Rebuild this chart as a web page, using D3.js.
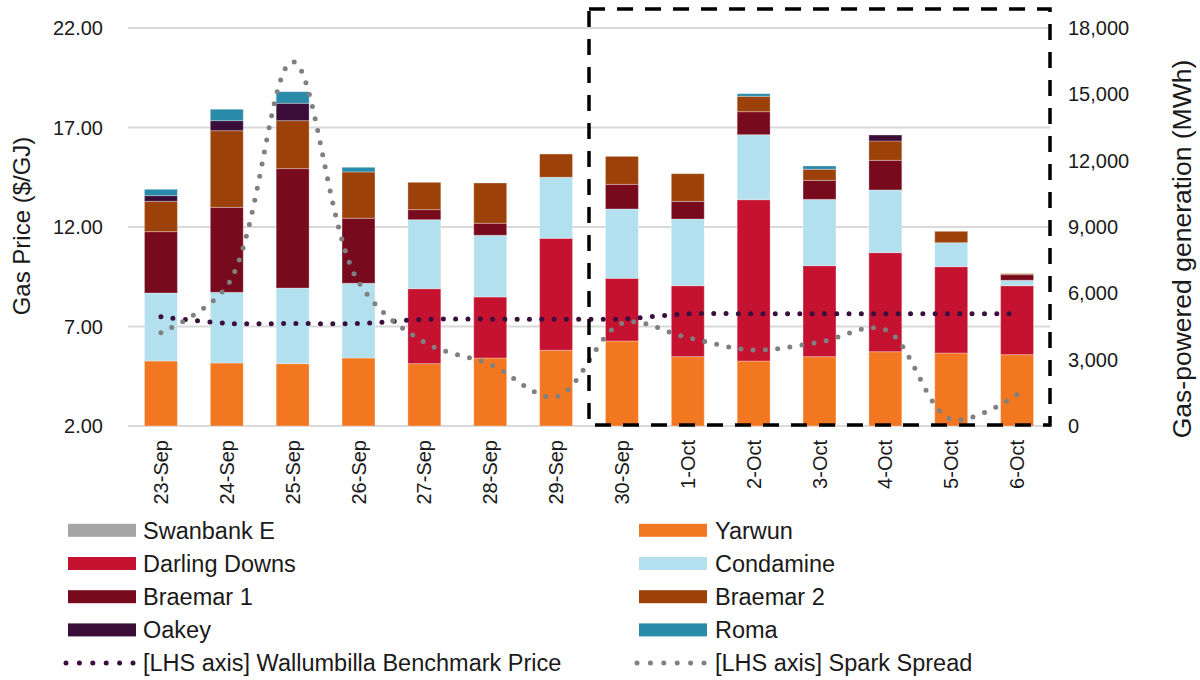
<!DOCTYPE html>
<html>
<head>
<meta charset="utf-8">
<script src="https://cdnjs.cloudflare.com/ajax/libs/d3/7.8.5/d3.min.js"></script>
<style>
	body { margin: 0; background: #fff; }
	text { font-family: "Liberation Sans", Arial, sans-serif; fill: #1a1a1a; }
</style>
</head>
<body>
<div id="chart"></div>
<script>

// Data (MWh per day per station, $/GJ for the lines)
var categories = ["23-Sep", "24-Sep", "25-Sep", "26-Sep", "27-Sep", "28-Sep", "29-Sep",
	"30-Sep", "1-Oct", "2-Oct", "3-Oct", "4-Oct", "5-Oct", "6-Oct"];
var swanbankE    = [0, 0, 0, 0, 0, 0, 0, 0, 0, 0, 0, 0, 0, 0];
var yarwun       = [2940, 2850, 2820, 3075, 2820, 3075, 3425, 3845, 3135, 2940, 3135, 3360, 3300, 3225];
var darlingDowns = [0, 0, 0, 0, 3390, 2760, 5065, 2835, 3210, 7295, 4115, 4480, 3905, 3120];
var condamine    = [3075, 3195, 3420, 3380, 3120, 2790, 2760, 3135, 3015, 2940, 3000, 2835, 1085, 245];
var braemar1     = [2775, 3845, 5400, 2940, 455, 545, 0, 1115, 800, 1040, 860, 1340, 0, 255];
var braemar2     = [1370, 3465, 2170, 2095, 1235, 1820, 1050, 1265, 1250, 695, 500, 875, 515, 45];
var oakey        = [260, 455, 785, 0, 0, 0, 0, 0, 0, 0, 0, 270, 0, 0];
var roma         = [285, 515, 525, 210, 0, 0, 0, 0, 0, 120, 150, 0, 0, 0];
var benchmarkPrice = [7.49, 7.16, 7.15, 7.15, 7.36, 7.37, 7.37, 7.38, 7.64, 7.64, 7.64, 7.64, 7.64, 7.64];
var sparkSpread    = [6.69, 9.02, 20.31, 9.24, 6.21, 5.10, 3.47, 7.16, 6.44, 5.82, 6.22, 6.84, 2.34, 3.57];
var leftTicks  = [2, 7, 12, 17, 22];
var rightTicks = [0, 3000, 6000, 9000, 12000, 15000, 18000];

var series = [
	{name: "Swanbank E", values: swanbankE, color: "#a5a5a5"},
	{name: "Yarwun", values: yarwun, color: "#f37721"},
	{name: "Darling Downs", values: darlingDowns, color: "#c41230"},
	{name: "Condamine", values: condamine, color: "#b3e0ee"},
	{name: "Braemar 1", values: braemar1, color: "#780a1e"},
	{name: "Braemar 2", values: braemar2, color: "#9c410a"},
	{name: "Oakey", values: oakey, color: "#3a0e38"},
	{name: "Roma", values: roma, color: "#2a8aaa"}
];
var lines = [
	{name: "[LHS axis] Wallumbilla Benchmark Price", values: benchmarkPrice, color: "#3b0f3d"},
	{name: "[LHS axis] Spark Spread", values: sparkSpread, color: "#808080"}
];

var width = 1200, height = 680;
var plot = {left: 128, right: 1050, top: 28, bottom: 426};

var svg = d3.select("#chart")
	.append("svg")
	.attr("width", width)
	.attr("height", height);

// (scales) Band for days, two value axes
var x = d3.scaleBand()
	.domain(categories)
	.range([plot.left, plot.right])
	.paddingInner(0.5)
	.paddingOuter(0.25);
var yL = d3.scaleLinear().domain([2, 22]).range([plot.bottom, plot.top]);
var yR = d3.scaleLinear().domain([0, 18000]).range([plot.bottom, plot.top]);

// (grid) Horizontal gridlines on LHS ticks
svg.append("g")
	.selectAll("line")
	.data(leftTicks)
	.enter()
	.append("line")
	.attr("x1", plot.left)
	.attr("x2", plot.right)
	.attr("y1", function(d) { return yL(d); })
	.attr("y2", function(d) { return yL(d); })
	.attr("stroke", "#d9d9d9")
	.attr("stroke-width", 2);

// (bars) Stacked generation
var rows = categories.map(function(c, i) {
	var r = {day: c};
	series.forEach(function(s) { r[s.name] = s.values[i]; });
	return r;
});
var stacked = d3.stack().keys(series.map(function(s) { return s.name; }))(rows);

svg.append("g")
	.selectAll("g")
	.data(stacked)
	.enter()
	.append("g")
	.attr("fill", function(d, i) { return series[i].color; })
	.selectAll("rect")
	.data(function(d) { return d.filter(function(p) { return p[1] - p[0] > 0; }); })
	.enter()
	.append("rect")
	.attr("x", function(d) { return x(d.data.day); })
	.attr("width", x.bandwidth())
	.attr("y", function(d) { return yR(d[1]); })
	.attr("height", function(d) { return yR(d[0]) - yR(d[1]); })
	.attr("stroke", "#ffffff")
	.attr("stroke-opacity", 0.3)
	.attr("stroke-width", 1);

// (lines) Dotted price lines on LHS axis
var line = d3.line()
	.x(function(d, i) { return x(categories[i]) + x.bandwidth() / 2; })
	.y(function(d) { return yL(d); })
	.curve(d3.curveCatmullRom.alpha(0.5));

svg.append("g")
	.selectAll("path")
	.data(lines)
	.enter()
	.append("path")
	.attr("d", function(d) { return line(d.values); })
	.attr("fill", "none")
	.attr("stroke", function(d) { return d.color; })
	.attr("stroke-width", 5)
	.attr("stroke-linecap", "round")
	.attr("stroke-dasharray", "0 12.3");

// (box) Dashed highlight round the last week
var boxLeft = x(categories[7]) - (x.step() - x.bandwidth()) / 2;
svg.append("rect")
	.attr("x", boxLeft)
	.attr("y", 9)
	.attr("width", plot.right - boxLeft)
	.attr("height", plot.bottom - 1 - 9)
	.attr("fill", "none")
	.attr("stroke", "#000")
	.attr("stroke-width", 3.5)
	.attr("stroke-dasharray", "16 12");

// (axes) Tick labels
svg.append("g")
	.selectAll("text")
	.data(leftTicks)
	.enter()
	.append("text")
	.attr("x", 103)
	.attr("y", function(d) { return yL(d); })
	.attr("dy", "0.35em")
	.attr("text-anchor", "end")
	.attr("font-size", "20px")
	.text(function(d) { return d3.format(".2f")(d); });

svg.append("g")
	.selectAll("text")
	.data(rightTicks)
	.enter()
	.append("text")
	.attr("x", 1068)
	.attr("y", function(d) { return yR(d); })
	.attr("dy", "0.35em")
	.attr("font-size", "20px")
	.text(function(d) { return d3.format(",")(d); });

svg.append("g")
	.selectAll("text")
	.data(categories)
	.enter()
	.append("text")
	.attr("transform", function(d) {
		return "translate(" + (x(d) + x.bandwidth() / 2) + ",440) rotate(-90)";
	})
	.attr("dy", "0.35em")
	.attr("text-anchor", "end")
	.attr("font-size", "20px")
	.text(function(d) { return d; });

// (titles) Axis titles
svg.append("text")
	.attr("transform", "translate(22,226) rotate(-90)")
	.attr("dy", "0.35em")
	.attr("text-anchor", "middle")
	.attr("font-size", "24px")
	.text("Gas Price ($/GJ)");

svg.append("text")
	.attr("transform", "translate(1182,249) rotate(-90)")
	.attr("dy", "0.35em")
	.attr("text-anchor", "middle")
	.attr("font-size", "26.5px")
	.text("Gas-powered generation (MWh)");

// (legend) Two columns, bars first then lines
var legendItems = series.map(function(s) { return {name: s.name, color: s.color, type: "bar"}; })
	.concat(lines.map(function(l) { return {name: l.name, color: l.color, type: "line"}; }));
var colX = [68, 639];

var legend = svg.append("g")
	.selectAll("g")
	.data(legendItems)
	.enter()
	.append("g")
	.attr("transform", function(d, i) {
		return "translate(" + colX[i % 2] + "," + (530.3 + Math.floor(i / 2) * 33.2) + ")";
	});

legend.filter(function(d) { return d.type === "bar"; })
	.append("rect")
	.attr("x", 0)
	.attr("y", -6.5)
	.attr("width", 68)
	.attr("height", 13)
	.attr("fill", function(d) { return d.color; });

legend.filter(function(d) { return d.type === "line"; })
	.append("line")
	.attr("x1", -2)
	.attr("x2", 65)
	.attr("stroke", function(d) { return d.color; })
	.attr("stroke-width", 5)
	.attr("stroke-linecap", "round")
	.attr("stroke-dasharray", "0 13.4");

legend.append("text")
	.attr("x", function(d, i) { return i % 2 ? 76 : 75; })
	.attr("dy", "0.35em")
	.attr("font-size", "23.5px")
	.text(function(d) { return d.name; });

</script>
</body>
</html>
